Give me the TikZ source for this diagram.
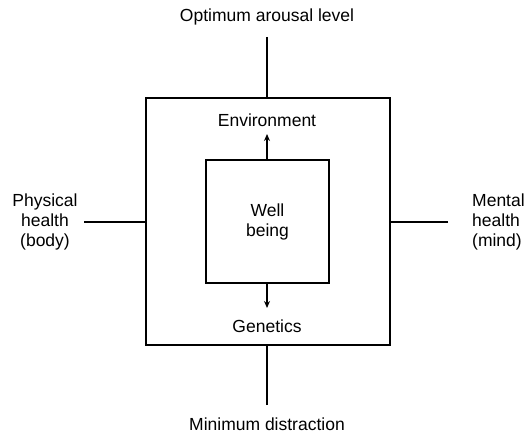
\documentclass[tikz,border=0pt]{standalone}
\usepackage{fontspec}
\setmainfont{Liberation Sans}
\usetikzlibrary{arrows.meta}
\begin{document}
\begin{tikzpicture}[x=1pt,y=-1pt,
  lbl/.style={font=\fontsize{17.5}{20}\selectfont, inner sep=0pt, align=center},
  ln/.style={line width=1.3pt},
  arr/.style={line width=1.3pt,-{Stealth[length=7pt,width=6pt]}}]
\useasboundingbox (0,0) rectangle (529,436);
\node[draw, ln, minimum width=244pt, minimum height=247pt, inner sep=0pt] (outer) at (268,221.5) {};
\node[draw, ln, minimum width=123pt, minimum height=123pt, inner sep=0pt] (inner) at (267.5,221.5) {};
\node[lbl] (wb) at (267.5,221.5) {Well\\being};
\node[lbl] (env) at (267,120) {Environment};
\node[lbl] (gen) at (267,326) {Genetics};
\node[lbl] (top) at (267,17) {Optimum arousal level};
\node[lbl] (bot) at (267,424) {Minimum distraction};
\node[lbl] (phys) at (45,222) {Physical\\health\\(body)};
\node[lbl, align=left, anchor=west] (ment) at (472,222) {Mental\\health\\(mind)};
\coordinate (topend) at (267,37);
\coordinate (botend) at (267,405);
\coordinate (leftend) at (84,222);
\coordinate (rightend) at (448,222);
\coordinate (envtip) at (267,134);
\coordinate (gentip) at (267,308);
\draw[ln] (topend) -- (topend |- outer.north);
\draw[ln] (botend) -- (botend |- outer.south);
\draw[ln] (leftend) -- (leftend -| outer.west);
\draw[ln] (rightend) -- (rightend -| outer.east);
\draw[arr] (envtip |- inner.north) -- (envtip);
\draw[arr] (gentip |- inner.south) -- (gentip);
\end{tikzpicture}
\end{document}
